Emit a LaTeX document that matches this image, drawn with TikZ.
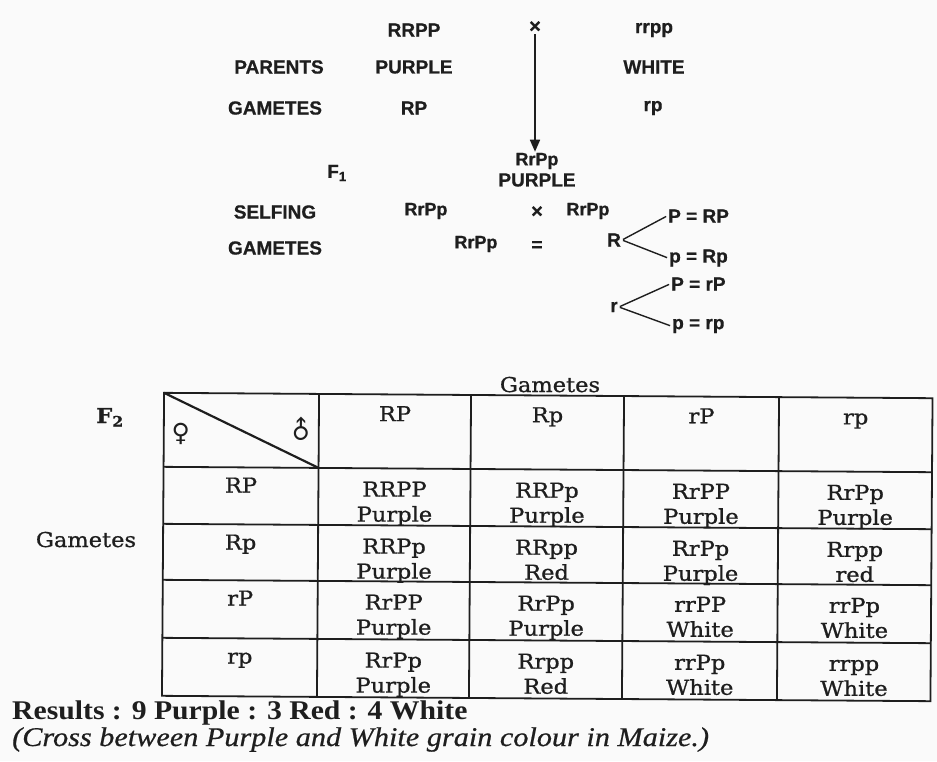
\documentclass[tikz,border=0pt]{standalone}
\usepackage{fontspec}
\usetikzlibrary{arrows.meta}
\newfontfamily\topfont[FakeBold=0.6]{Liberation Sans}
\newfontfamily\tabfont[FakeStretch=1.1,FakeBold=0.9]{DejaVu Serif}
\newfontfamily\resfont[FakeStretch=1.1]{Liberation Serif}
\newfontfamily\itfont[FakeStretch=1.12,FakeBold=0.6]{Liberation Serif}
\newfontfamily\symfont{DejaVu Sans}
\definecolor{ink}{HTML}{1E1E1E}
\definecolor{paper}{HTML}{FAFAFA}
\tikzset{
  lbl/.style={font=\topfont\bfseries\fontsize{19}{22}\selectfont, text=ink, inner sep=1pt},
  geno/.style={font=\topfont\bfseries\fontsize{18}{21}\selectfont, text=ink, inner sep=1pt},
  small/.style={font=\topfont\bfseries\fontsize{20}{22}\selectfont, text=ink, inner sep=1pt},
  gam/.style={font=\topfont\bfseries\fontsize{19}{22}\selectfont, text=ink, inner sep=1pt, anchor=west},
  branch/.style={draw=ink, line width=1.4pt, shorten <=1pt, shorten >=1pt},
  tline/.style={draw=ink, line width=1.8pt},
  tcell/.style={font=\tabfont\fontsize{20.5}{25}\selectfont, text=ink, align=center, inner sep=0pt, anchor=north},
  ttext/.style={font=\tabfont\fontsize{20.5}{25}\selectfont, text=ink, inner sep=0pt, anchor=base},
  sym/.style={font=\symfont\fontsize{25}{27}\selectfont, text=ink, inner sep=0pt},
}
\newcommand{\ru}{\rule{0pt}{16pt}}
\begin{document}
\begin{tikzpicture}[x=1pt,y=-1pt]
\fill[paper] (0,0) rectangle (937,761);
\useasboundingbox (0,0) rectangle (937,761);

% ---------- top part ----------
\node[lbl] (p1g) at (414,30) {RRPP};
\node[small] (x1) at (535,27) {×};
\node[lbl] (p2g) at (654,30) {rrpp};
\node[lbl] (par) at (279,67) {PARENTS};
\node[lbl] (p1c) at (414,67) {PURPLE};
\node[lbl] (p2c) at (654,67) {WHITE};
\node[lbl] (gam1) at (275,108) {GAMETES};
\node[lbl] (g1) at (414,108) {RP};
\node[lbl] (g2) at (653,108) {rp};
\node[lbl] (f1) at (337,173) {F\textsubscript{1}};
\node[geno] (f1g) at (537,161) {RrPp};
\node[lbl] (f1c) at (537,180) {PURPLE};
\draw[draw=ink, line width=1.7pt, -{Triangle[length=12pt,width=10pt]}]
  (x1.south) -- (x1.south |- f1g.north);

\node[lbl] (self) at (275,212) {SELFING};
\node[geno] (s1) at (426,211) {RrPp};
\node[small] (x2) at (537,212) {×};
\node[geno] (s2) at (588,211) {RrPp};
\node[lbl] (gam2) at (275,248) {GAMETES};
\node[geno] (s3) at (476,244) {RrPp};
\node[lbl] (eq) at (537,246) {=};

\node[lbl] (R) at (614,240) {R};
\node[gam] (gRP) at (667,216) {P = RP};
\node[gam] (gRp) at (668,258) {p = Rp};
\node[lbl] (r) at (614,307) {r};
\node[gam] (grP) at (670,284) {P = rP};
\node[gam] (grp) at (671,326) {p = rp};
\draw[branch] (R.east) -- (gRP.west);
\draw[branch] (R.east) -- (gRp.west);
\draw[branch] (r.east) -- (grP.west);
\draw[branch] (r.east) -- (grp.west);

% ---------- table ----------
\node[ttext, font=\tabfont\bfseries\fontsize{20.5}{25}\selectfont] (F2) at (110,423) {F\textsubscript{2}};
\node[ttext] (gleft) at (86,547) {Gametes};
\node[ttext] (gtop) at (550,392) {Gametes};

\begin{scope}[rotate around={-0.4:(547,547)}]
\draw[tline] (163,395.5) rectangle (931.5,698.5);
\foreach \x in {318,470,623,778} \draw[tline] (\x,395.5) -- (\x,698.5);
\foreach \y in {469.5,526.5,582.5,640.5} \draw[tline] (163,\y) -- (931.5,\y);
\draw[draw=ink, line width=2.2pt] (163,395.5) -- (318,469.5);
\node[sym] (fem) at (180,436) {♀};
\node[sym, rotate=45] (mal) at (300,432) {♂};

% header
\node[tcell] (h1) at (394,406) {\ru RP};
\node[tcell] (h2) at (546.5,406) {\ru Rp};
\node[tcell] (h3) at (700.5,406) {\ru rP};
\node[tcell] (h4) at (854.75,406) {\ru rp};
% row labels
\node[tcell] (r1) at (240.5,478.5) {\ru RP};
\node[tcell] (r2) at (240.5,535.5) {\ru Rp};
\node[tcell] (r3) at (240.5,591.5) {\ru rP};
\node[tcell] (r4) at (240.5,649.5) {\ru rp};
% row 1
\node[tcell] (c11) at (394,481.5) {\ru RRPP\\Purple};
\node[tcell] (c12) at (546.5,481.5) {\ru RRPp\\Purple};
\node[tcell] (c13) at (700.5,481.5) {\ru RrPP\\Purple};
\node[tcell] (c14) at (854.75,481.5) {\ru RrPp\\Purple};
% row 2
\node[tcell] (c21) at (394,538.5) {\ru RRPp\\Purple};
\node[tcell] (c22) at (546.5,538.5) {\ru RRpp\\Red};
\node[tcell] (c23) at (700.5,538.5) {\ru RrPp\\Purple};
\node[tcell] (c24) at (854.75,538.5) {\ru Rrpp\\red};
% row 3
\node[tcell] (c31) at (394,594.5) {\ru RrPP\\Purple};
\node[tcell] (c32) at (546.5,594.5) {\ru RrPp\\Purple};
\node[tcell] (c33) at (700.5,594.5) {\ru rrPP\\White};
\node[tcell] (c34) at (854.75,594.5) {\ru rrPp\\White};
% row 4
\node[tcell] (c41) at (394,652.5) {\ru RrPp\\Purple};
\node[tcell] (c42) at (546.5,652.5) {\ru Rrpp\\Red};
\node[tcell] (c43) at (700.5,652.5) {\ru rrPp\\White};
\node[tcell] (c44) at (854.75,652.5) {\ru rrpp\\White};
\end{scope}

% ---------- results ----------
\node[font=\resfont\bfseries\fontsize{27}{30}\selectfont, text=ink, inner sep=0pt, anchor=base west] (res) at (12,719) {Results : 9 Purple : 3 Red : 4 White};
\node[font=\itfont\itshape\fontsize{27}{30}\selectfont, text=ink, inner sep=0pt, anchor=base west] (cap) at (12,746) {(Cross between Purple and White grain colour in Maize.)};
\end{tikzpicture}
\end{document}
